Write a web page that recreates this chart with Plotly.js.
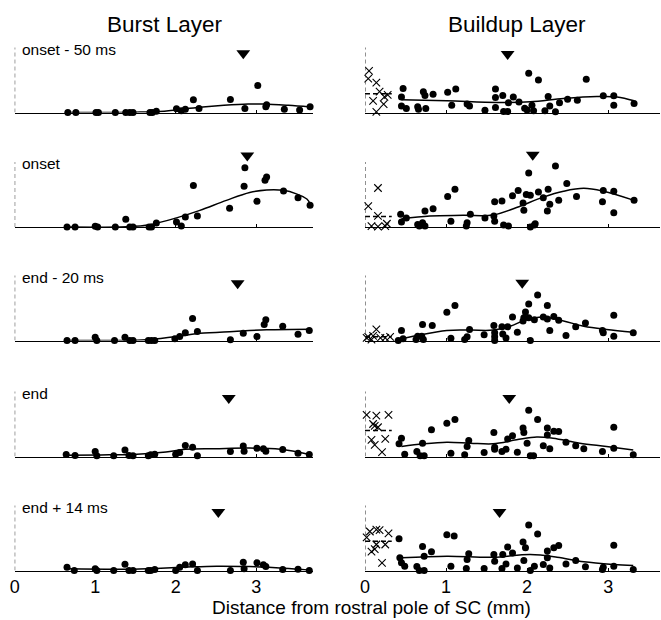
<!DOCTYPE html>
<html>
<head>
<meta charset="utf-8">
<script src="https://cdn.plot.ly/plotly-3.0.1.min.js"></script>
<style>html,body{margin:0;padding:0;background:#fff}#chart{width:661px;height:620px}</style>
</head>
<body>
<div id="chart"></div>
<script>
// ---------- DATA ----------
const columnTitles = ["Burst Layer", "Buildup Layer"];
const rowLabels = ["onset - 50 ms", "onset", "end - 20 ms", "end", "end + 14 ms"];
const xTitle = "Distance from rostral pole of SC (mm)";
const tickValues = [0, 1, 2, 3];

// Burst layer (left column)
const burst1X = [0.66,0.76,1.01,1.04,1.25,1.38,1.43,1.47,1.68,1.71,1.76,2.01,2.07,2.12,2.22,2.29,2.68,2.86,3.02,3.12,3.13,3.35,3.54,3.67];
const burst1Y = [0,0,0,0,0,0,0,0,0,0,0.02,0.056,0.026,0.05,0.195,0.06,0.2,0.06,0.415,0.09,0.12,0.05,0.04,0.087];
const burst1FitX = [0.66,1.5,1.8,2.0,2.3,2.6,2.9,3.1,3.4,3.67];
const burst1FitY = [0,0.005,0.015,0.04,0.08,0.11,0.13,0.13,0.11,0.085];

const burst2X = [0.65,0.75,1.0,1.03,1.25,1.38,1.43,1.47,1.67,1.7,1.76,2.01,2.07,2.12,2.22,2.27,2.67,2.85,2.86,3.01,3.11,3.13,3.34,3.52,3.67];
const burst2Y = [0,0,0.01,0,0,0.118,0,0,0,0,0.06,0.077,0.015,0.154,0.64,0.17,0.287,0.626,0.91,0.395,0.72,0.77,0.554,0.45,0.333];
const burst2FitX = [0.65,1.39,1.68,2.01,2.3,2.63,2.92,3.13,3.34,3.5,3.63,3.67];
const burst2FitY = [0,0.005,0.036,0.14,0.256,0.41,0.53,0.57,0.564,0.51,0.43,0.36];

const burst3X = [0.65,0.75,1.0,1.02,1.24,1.37,1.43,1.47,1.66,1.7,1.74,1.99,2.05,2.12,2.21,2.27,2.68,2.84,3.01,3.1,3.12,3.33,3.52,3.66];
const burst3Y = [0,0,0.05,0,0,0.05,0,0,0,0,0,0.026,0.06,0.118,0.34,0.14,0.01,0.11,0.06,0.246,0.32,0.22,0.097,0.154];
const burst3FitX = [0.65,1.45,1.68,2.01,2.3,2.72,3.13,3.67];
const burst3FitY = [0,0.003,0.015,0.06,0.11,0.14,0.165,0.174];

const burst4X = [0.64,0.75,1.0,1.02,1.23,1.37,1.42,1.47,1.66,1.69,1.74,2.0,2.05,2.12,2.21,2.27,2.68,2.84,2.85,3.01,3.09,3.12,3.33,3.52,3.66];
const burst4Y = [0.03,0.015,0.077,0.01,0.01,0.1,0.015,0.01,0.01,0.026,0.036,0.036,0.06,0.17,0.144,0.01,0.077,0.16,0.08,0.128,0.118,0.08,0.108,0.05,0.03];
const burst4FitX = [0.64,1.07,1.47,1.88,2.12,2.49,2.9,3.3,3.66];
const burst4FitY = [0.02,0.025,0.03,0.07,0.11,0.12,0.13,0.11,0.03];

const burst5X = [0.65,0.74,1.0,1.02,1.23,1.37,1.42,1.47,1.66,1.69,1.74,2.0,2.05,2.12,2.21,2.27,2.68,2.84,2.85,3.01,3.09,3.12,3.33,3.52,3.66];
const burst5Y = [0.05,0,0.026,0,0,0.097,0,0,0,0,0.015,0,0.05,0.09,0.1,0,0,0.128,0.026,0.118,0.09,0.06,0.015,0.02,0];
const burst5FitX = [0.65,1.47,2.09,2.51,2.92,3.34,3.67];
const burst5FitY = [0.026,0.02,0.05,0.067,0.06,0.036,0.005];

// Buildup layer (right column)
const build1X = [0.47,0.45,0.45,0.51,0.65,0.66,0.72,0.74,0.75,0.84,1.02,1.12,1.07,1.26,1.29,1.48,1.61,1.61,1.61,1.70,1.71,1.77,1.76,1.83,1.90,1.97,2.02,2.0,2.06,2.08,2.14,2.22,2.26,2.28,2.35,2.40,2.50,2.62,2.73,2.94,3.07,3.07,3.32];
const build1Y = [0.37,0.24,0.10,0.06,0.09,0.05,0.32,0.26,0.06,0.28,0.31,0.36,0.11,0.13,0.10,0.036,0.36,0.23,0.077,0.26,0.015,0.15,0.015,0.24,0.16,0.067,0.605,0.04,0.11,0.026,0.50,0.026,0.246,0.10,0.01,0.15,0.205,0.19,0.51,0.256,0.256,0.11,0.14];
const build1CrossX = [0.05,0.04,0.14,0.18,0.28,0.24,0.10,0.23,0.14];
const build1CrossY = [0.64,0.52,0.46,0.32,0.27,0.24,0.18,0.13,0.01];
const build1FitX = [0.45,1.01,1.63,2.04,2.45,2.86,3.11,3.32];
const build1FitY = [0.195,0.18,0.154,0.164,0.215,0.246,0.24,0.18];

const build2X = [0.44,0.45,0.51,0.65,0.67,0.74,0.71,0.74,0.84,1.02,1.11,1.06,1.25,1.26,1.30,1.48,1.59,1.60,1.60,1.69,1.71,1.77,1.82,1.89,1.96,1.95,1.99,2.04,2.04,2.09,2.14,2.20,2.26,2.28,2.25,2.39,2.61,2.93,3.07,3.32,2.94,3.07,2.02,2.35,2.49,2.10];
const build2Y = [0.195,0.077,0.14,0.04,0.015,0.015,0.067,0.246,0.28,0.47,0.58,0.09,0.015,0.067,0.195,0.14,0.17,0.09,0.39,0.40,0.03,0.015,0.48,0.56,0.256,0.37,0.5,0.49,0,0.03,0.54,0.45,0.58,0.35,0.246,0.41,0.47,0.39,0.22,0.41,0.56,0.55,0.83,0.94,0.67,0.05];
const build2CrossX = [0.16,0.04,0.16,0.08,0.16,0.25,0.27];
const build2CrossY = [0.6,0.32,0.17,0.015,0.005,0.015,0.05];
const build2FitX = [0.45,0.8,1.21,1.58,1.87,2.2,2.45,2.7,2.94,3.32];
const build2FitY = [0.128,0.17,0.18,0.185,0.30,0.46,0.55,0.595,0.55,0.41];

const build3X = [0.41,0.45,0.47,0.63,0.65,0.70,0.72,0.71,0.83,1.01,1.11,1.06,1.23,1.26,1.29,1.47,1.59,1.60,1.60,1.60,1.69,1.70,1.74,1.76,1.82,1.88,1.95,1.96,1.98,2.02,2.02,2.04,2.09,2.13,2.20,2.25,2.25,2.28,2.33,2.39,2.48,2.60,2.72,2.93,2.94,3.07,3.07,3.31];
const build3Y = [0,0.154,0.026,0.015,0.067,0.067,0.015,0.246,0.23,0.436,0.54,0.036,0.015,0.056,0.17,0.087,0.23,0.118,0.056,0,0.21,0.10,0.04,0.21,0.36,0.128,0.30,0.35,0.44,0.35,0.56,0,0.32,0.70,0.36,0.54,0.33,0.154,0.37,0.31,0.077,0.21,0.27,0.154,0.118,0.067,0.39,0.118];
const build3CrossX = [0.1,0.14,0.04,0.19,0.25,0.31,0.08,0.02];
const build3CrossY = [0.07,0.17,0.056,0.04,0.04,0.056,0.015,0.04];
const build3FitX = [0.41,0.64,1.01,1.3,1.58,1.79,1.99,2.2,2.45,2.7,2.98,3.31];
const build3FitY = [0.015,0.077,0.154,0.16,0.16,0.22,0.32,0.36,0.30,0.22,0.17,0.128];

const build4X = [0.45,0.42,0.49,0.64,0.68,0.73,0.71,0.82,1.01,1.11,1.06,1.23,1.26,1.28,1.47,1.59,1.60,1.60,1.69,1.74,1.76,1.82,1.88,1.95,1.96,2.0,2.02,2.04,2.08,2.13,2.20,2.25,2.25,2.28,2.33,2.39,2.48,2.60,2.70,2.93,3.07,3.07,3.31];
const build4Y = [0.28,0.195,0.036,0.077,0.01,0.01,0.205,0.41,0.51,0.57,0.05,0.026,0.154,0.246,0.06,0.37,0.144,0.11,0.077,0.11,0.27,0.32,0.067,0.44,0.37,0.205,0.71,0.01,0.01,0.57,0.164,0.33,0.44,0.118,0.39,0.385,0.22,0.164,0.118,0.077,0.128,0.45,0.026];
const build4CrossX = [0.02,0.14,0.29,0.10,0.16,0.12,0.08,0.25,0.12,0.21];
const build4CrossY = [0.64,0.63,0.64,0.50,0.45,0.47,0.256,0.27,0.18,0.067];
const build4FitX = [0.45,0.72,1.01,1.3,1.58,1.87,2.12,2.32,2.65,2.98,3.31];
const build4FitY = [0.154,0.195,0.22,0.205,0.195,0.256,0.30,0.28,0.205,0.154,0.10];

const build5X = [0.42,0.43,0.45,0.49,0.64,0.67,0.73,0.71,0.73,0.82,1.01,1.10,1.06,1.25,1.26,1.28,1.47,1.59,1.60,1.69,1.70,1.74,1.76,1.82,1.88,1.95,1.96,1.98,2.02,2.04,2.09,2.13,2.20,2.25,2.25,2.28,2.33,2.39,2.48,2.60,2.72,2.93,2.94,3.07,3.07,3.31];
const build5Y = [0.49,0.195,0.118,0.067,0.06,0,0,0.37,0.22,0.29,0.55,0.53,0.067,0.03,0.17,0.256,0.03,0.246,0.144,0.03,0.246,0.10,0.36,0.27,0.04,0.44,0.154,0.35,0.70,0,0.067,0.56,0.092,0.195,0.30,0.04,0.35,0.385,0.10,0.154,0.056,0.015,0.05,0.39,0.067,0.015];
const build5CrossX = [0.02,0.06,0.14,0.18,0.29,0.14,0.08,0.25,0.21,0.12];
const build5CrossY = [0.51,0.6,0.63,0.62,0.57,0.40,0.29,0.40,0.118,0.33];
const build5FitX = [0.45,1.01,1.58,2.04,2.37,2.7,3.07,3.31];
const build5FitY = [0.195,0.22,0.205,0.246,0.205,0.133,0.092,0.077];

// Mean of the rostral (x) cells, and its span
const buildCrossMean = [0.29, 0.16, 0.056, 0.40, 0.45];
const crossMeanSpan = [0, 0.33];

// Arrowheads (▼)
const burstArrowX = [2.84, 2.89, 2.77, 2.66, 2.53];
const burstArrowY = [0.91, 1.10, 0.88, 0.90, 0.90];
const buildArrowX = [1.76, 2.07, 1.94, 1.78, 1.66];
const buildArrowY = [0.90, 1.11, 0.89, 0.90, 0.90];

// ---------- BUILD ----------
const burstPanels = [
  [burst1X, burst1Y, burst1FitX, burst1FitY],
  [burst2X, burst2Y, burst2FitX, burst2FitY],
  [burst3X, burst3Y, burst3FitX, burst3FitY],
  [burst4X, burst4Y, burst4FitX, burst4FitY],
  [burst5X, burst5Y, burst5FitX, burst5FitY]
];
const buildPanels = [
  [build1X, build1Y, build1FitX, build1FitY, build1CrossX, build1CrossY],
  [build2X, build2Y, build2FitX, build2FitY, build2CrossX, build2CrossY],
  [build3X, build3Y, build3FitX, build3FitY, build3CrossX, build3CrossY],
  [build4X, build4Y, build4FitX, build4FitY, build4CrossX, build4CrossY],
  [build5X, build5Y, build5FitX, build5FitY, build5CrossX, build5CrossY]
];

const W = 661, H = 620;
const baselinesPx = [112.5, 227, 340.5, 456.5, 570.5];
const unitPx = 65;
const yMax = 1.25;
const colDomPx = [[14.7, 312.5], [365, 660]];
const colRange = [[0, 3.7], [0, 3.64]];

const traces = [];
const layout = {
  width: W, height: H,
  margin: {l: 0, r: 0, t: 0, b: 0},
  paper_bgcolor: '#fff', plot_bgcolor: 'rgba(0,0,0,0)',
  showlegend: false,
  font: {family: 'Arial, "Liberation Sans", sans-serif', color: '#000'},
  shapes: [], annotations: []
};

const dotMarker = {symbol: 'circle', size: 7, color: '#000'};
const fitLine = {color: '#000', width: 1.5, shape: 'spline', smoothing: 1};

for (let r = 0; r < 5; r++) {
  for (let c = 0; c < 2; c++) {
    const k = r * 2 + c + 1;
    const xa = k === 1 ? 'x' : 'x' + k;
    const ya = k === 1 ? 'y' : 'y' + k;
    const xKey = k === 1 ? 'xaxis' : 'xaxis' + k;
    const yKey = k === 1 ? 'yaxis' : 'yaxis' + k;
    const b = baselinesPx[r];
    layout[xKey] = {
      domain: [colDomPx[c][0] / W, colDomPx[c][1] / W],
      range: colRange[c], anchor: ya,
      showline: true, linecolor: '#000', linewidth: 1,
      ticks: 'inside', ticklen: 3, tickcolor: '#000', tickwidth: 1,
      tickvals: tickValues, showticklabels: r === 4,
      tickfont: {size: 18, color: '#000'},
      showgrid: false, zeroline: false, fixedrange: true
    };
    layout[yKey] = {
      domain: [1 - b / H, 1 - (b - yMax * unitPx) / H],
      range: [0, yMax], anchor: xa, visible: false,
      showgrid: false, zeroline: false, fixedrange: true
    };
    // dashed y-axis
    layout.shapes.push({type: 'line', xref: xa, yref: ya, x0: 0, x1: 0, y0: 0, y1: 1,
      line: {color: '#222', width: 1, dash: '4px,3px'}});
    // row label (left column only)
    if (c === 0) {
      layout.annotations.push({xref: xa, yref: ya, x: 0.06, y: 0.97, xanchor: 'left', yanchor: 'middle',
        text: rowLabels[r], showarrow: false, font: {size: 15.5, color: '#000'}});
    }
    if (c === 0) {
      const p = burstPanels[r];
      traces.push({type: 'scatter', mode: 'lines', x: p[2], y: p[3], xaxis: xa, yaxis: ya, line: fitLine, cliponaxis: false, hoverinfo: 'skip'});
      traces.push({type: 'scatter', mode: 'markers', x: p[0], y: p[1], xaxis: xa, yaxis: ya, marker: dotMarker, cliponaxis: false});
      traces.push({type: 'scatter', mode: 'markers', x: [burstArrowX[r]], y: [burstArrowY[r]], xaxis: xa, yaxis: ya,
        marker: {symbol: 'triangle-down', size: 12, color: '#000'}, cliponaxis: false});
    } else {
      const p = buildPanels[r];
      traces.push({type: 'scatter', mode: 'lines', x: p[2], y: p[3], xaxis: xa, yaxis: ya, line: fitLine, cliponaxis: false, hoverinfo: 'skip'});
      traces.push({type: 'scatter', mode: 'lines', x: crossMeanSpan, y: [buildCrossMean[r], buildCrossMean[r]], xaxis: xa, yaxis: ya,
        line: {color: '#000', width: 1.5, dash: '5px,3px'}, cliponaxis: false});
      traces.push({type: 'scatter', mode: 'markers', x: p[4], y: p[5], xaxis: xa, yaxis: ya,
        marker: {symbol: 'x-thin-open', size: 7.5, color: '#000', line: {color: '#000', width: 1.1}}, cliponaxis: false});
      traces.push({type: 'scatter', mode: 'markers', x: p[0], y: p[1], xaxis: xa, yaxis: ya, marker: dotMarker, cliponaxis: false});
      traces.push({type: 'scatter', mode: 'markers', x: [buildArrowX[r]], y: [buildArrowY[r]], xaxis: xa, yaxis: ya,
        marker: {symbol: 'triangle-down', size: 12, color: '#000'}, cliponaxis: false});
    }
  }
}

// column titles
layout.annotations.push({xref: 'paper', yref: 'paper', x: 165 / W, y: 1 - 25 / H, xanchor: 'center', yanchor: 'middle',
  text: columnTitles[0], showarrow: false, font: {size: 22.5, color: '#000'}});
layout.annotations.push({xref: 'paper', yref: 'paper', x: 517 / W, y: 1 - 25 / H, xanchor: 'center', yanchor: 'middle',
  text: columnTitles[1], showarrow: false, font: {size: 22.5, color: '#000'}});
// x title
layout.annotations.push({xref: 'paper', yref: 'paper', x: 372 / W, y: 1 - 607 / H, xanchor: 'center', yanchor: 'middle',
  text: xTitle, showarrow: false, font: {size: 19, color: '#000'}});

Plotly.newPlot('chart', traces, layout, {staticPlot: true, displayModeBar: false});
</script>
</body>
</html>
